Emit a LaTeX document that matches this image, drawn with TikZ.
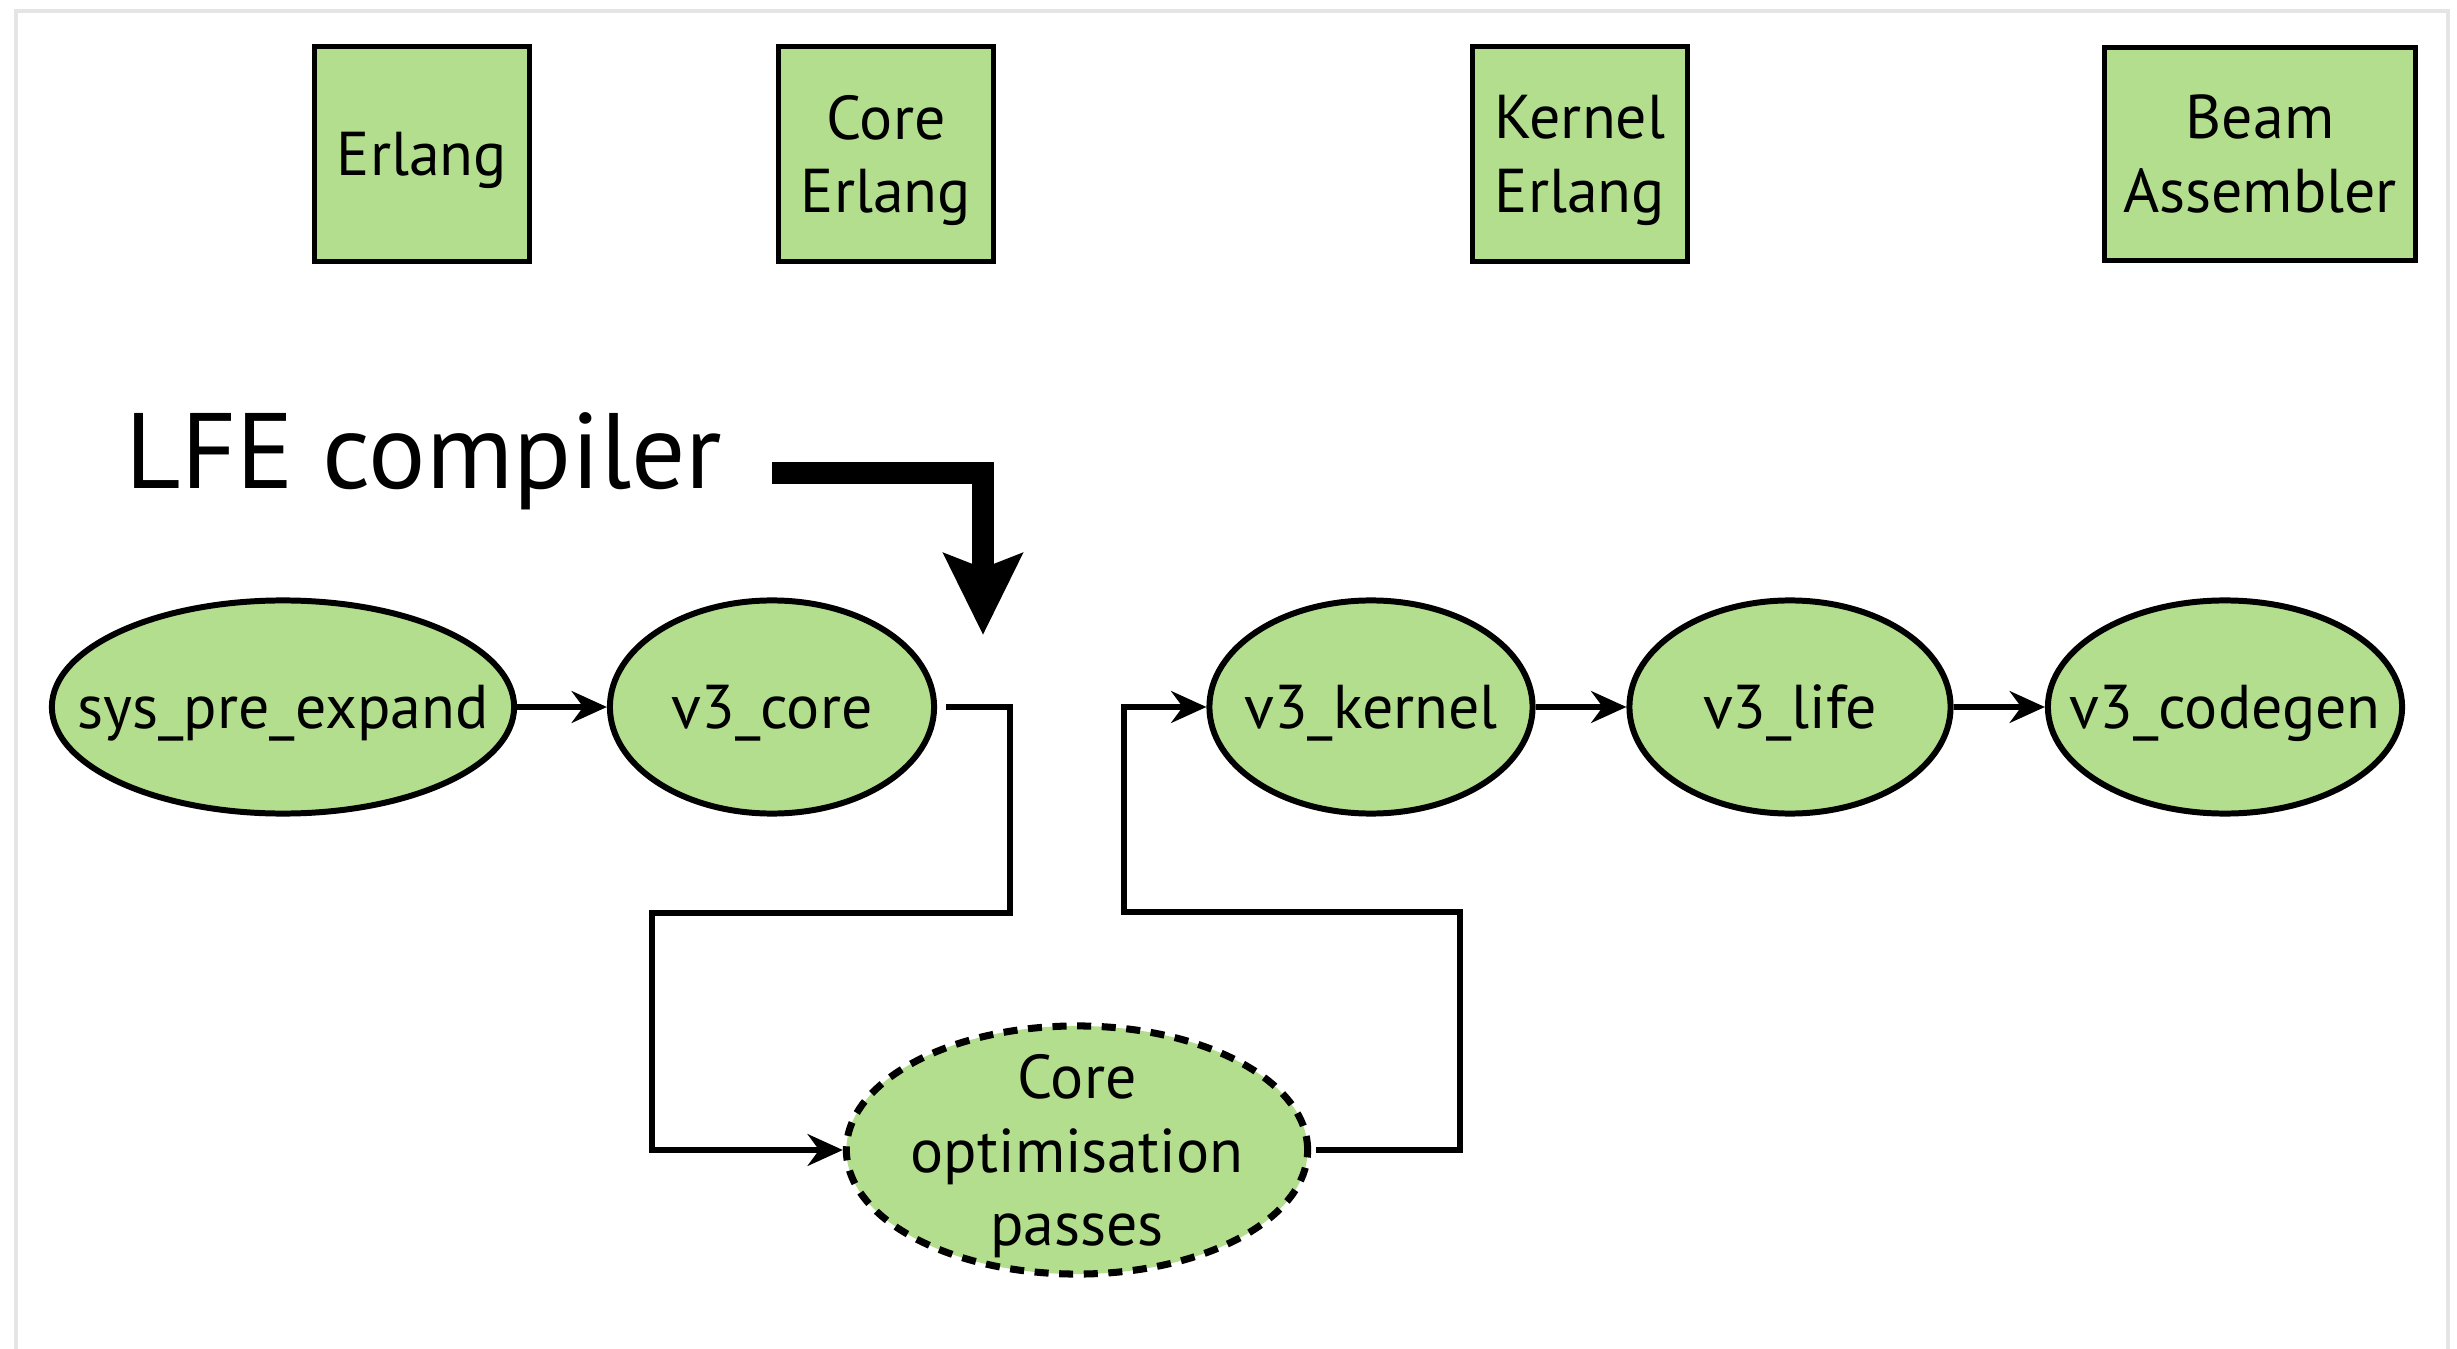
\documentclass[tikz,border=0pt]{standalone}
\usepackage{fontspec}
\setmainfont{PT Sans}
\usetikzlibrary{shapes.geometric,arrows.meta}
\definecolor{lfegreen}{RGB}{179,222,141}
\begin{document}
\begin{tikzpicture}[x=0.01cm, y=-0.01cm,
  lang/.style={draw, line width=1.6pt, fill=lfegreen, minimum height=2.15cm, inner sep=0pt, text depth=0pt, align=center, font=\fontsize{17.6}{21}\selectfont},
  pass/.style={ellipse, draw, line width=1.7pt, fill=lfegreen, minimum height=2.13cm, inner xsep=-1cm, inner ysep=-1cm, text depth=0pt, align=center, font=\fontsize{17.6}{21}\selectfont},
  flow/.style={line width=1.8pt, -{Stealth[length=10pt,width=9pt]}}]
\useasboundingbox (0,0) rectangle (2457,1349);
\draw[black!10, line width=1.2pt] (16,1349) -- (16,11) -- (2448,11) -- (2448,1349);
\node[lang, minimum width=2.15cm] (erl) at (422,154){Erlang};
\node[lang, minimum width=2.15cm] (cerl) at (886,154){Core\\Erlang};
\node[lang, minimum width=2.15cm] (kerl) at (1580,154){Kernel\\Erlang};
\node[lang, minimum width=3.11cm, minimum height=2.13cm] (beam) at (2260,154){Beam\\Assembler};
\node[anchor=base west, inner sep=0pt, font=\fontsize{30.5}{36}\selectfont] (lfe) at (125,489){LFE compiler};
\coordinate (bigtail) at (772,473);
\coordinate (bigtip) at (983,635);
\draw[line width=6pt, -{Stealth[length=23pt,width=22pt,inset=4pt]}](bigtail) -| (bigtip);
\node[pass, minimum width=4.62cm] (spe) at (283,707){sys\_pre\_expand};
\node[pass, minimum width=3.24cm] (core) at (772,707){v3\_core};
\draw[flow](spe) -- (core);
\node[pass, minimum width=4.61cm, minimum height=2.48cm, dash pattern=on 4pt off 3pt, line width=2pt] (opt) at (1077,1150){Core\\optimisation\\passes};
\draw[flow, shorten <=2.5pt](core.east) -| (1010,913) -- (652,913) |- (opt.west);
\node[pass, minimum width=3.23cm] (kern) at (1371,707){v3\_kernel};
\draw[flow, shorten <=1.5pt](opt.east) -| (1460,912) -- (1124,912) |- (kern.west);
\node[pass, minimum width=3.21cm] (life) at (1790,707){v3\_life};
\node[pass, minimum width=3.54cm] (cgen) at (2225,707){v3\_codegen};
\draw[flow](kern) -- (life);
\draw[flow](life) -- (cgen);

\end{tikzpicture}
\end{document}
